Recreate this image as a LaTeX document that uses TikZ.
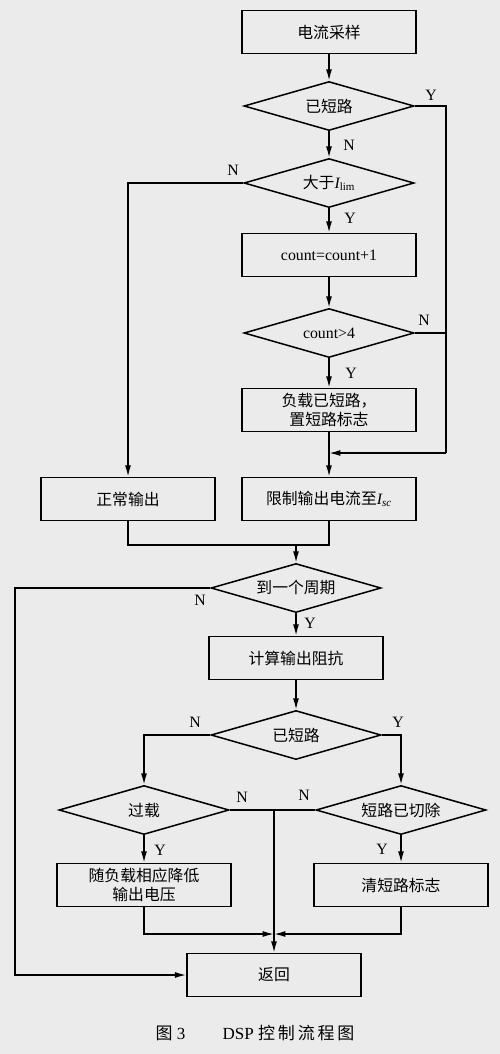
\documentclass[tikz,border=0pt]{standalone}
\usepackage{fontspec}
\setmainfont{Liberation Serif}
\newfontfamily\cjk{Noto Sans CJK SC}
\usetikzlibrary{shapes.geometric, arrows.meta}

\begin{document}
\begin{tikzpicture}[x=0.3mm, y=-0.3mm, >={Latex[length=3.4mm, width=1.8mm]}, line width=1.3pt,
    font=\fontsize{13.5}{16}\selectfont,
    box/.style={draw, minimum width=5.22cm, minimum height=1.29cm, inner sep=1pt, align=center, font=\fontsize{13.5}{16}\selectfont\cjk},
    test/.style={draw, diamond, aspect=3.5, minimum width=5.1cm, minimum height=1.47cm, inner sep=0pt, align=center, font=\fontsize{13.5}{16}\selectfont\cjk},
    yn/.style={inner sep=1pt}]
  \fill[black!8] (0,0) rectangle (500,1054);
  \useasboundingbox (0,0) rectangle (500,1054);
  % upper part: short-circuit check
  \node[box] (sample) at (329,32) {电流采样};
  \node[test] (shorted) at (329,106) {已短路};
  \node[test] (overlim) at (329,183) {大于{\rmfamily\itshape I}{\rmfamily\textsubscript{lim}}};
  \node[box] (count) at (329,255) {\rmfamily count=count+1};
  \node[test] (cmp) at (329,333) {\rmfamily count>4};
  \node[box] (flag) at (329,410) {负载已短路，\\置短路标志};
  \node[box] (normal) at (128,499) {正常输出};
  \node[box] (limit) at (329,499) {限制输出电流至{\rmfamily\itshape I}{\rmfamily\textsubscript{\itshape sc}}};
  \coordinate (rt) at (446,106);
  \coordinate (rb) at (446,453);
  \coordinate (join) at (329,453);
  \coordinate (m1) at (296,545);
  \draw[->] (sample) -- (shorted);
  \draw[->] (shorted) -- (overlim);
  \draw[->] (overlim) -- (count);
  \draw[->] (count) -- (cmp);
  \draw[->] (cmp) -- (flag);
  \draw[->] (flag) -- (limit);
  \draw (shorted.east) -- (rt) -- (rb);
  \draw[->] (rb) -- (join);
  \draw (cmp.east) -- (rt |- cmp.east);
  \draw[->] (overlim.west) -| (normal.north);
  \draw (normal.south) |- (m1);
  \draw (limit.south) |- (m1);
  \node[yn] (y1) at (431,95) {Y};
  \node[yn] (n1) at (349,145) {N};
  \node[yn] (n2) at (233,170) {N};
  \node[yn] (y2) at (350,218) {Y};
  \node[yn] (n3) at (424,320) {N};
  \node[yn] (y3) at (351,373) {Y};
  % lower part: once per period
  \node[test] (period) at (296,588) {到一个周期};
  \node[box] (calc) at (296,658) {计算输出阻抗};
  \node[test] (shorted2) at (296,735) {已短路};
  \node[test] (overload) at (144,810) {过载};
  \node[test] (cleared) at (401,810) {短路已切除};
  \node[box] (lower) at (144,885) {随负载相应降低\\输出电压};
  \node[box] (clear) at (401,885) {清短路标志};
  \node[box] (ret) at (274,975) {返回};
  \coordinate (lbus) at (15,588);
  \coordinate (j2) at (274,934);
  \draw[->] (m1) -- (period);
  \draw[->] (period) -- (calc);
  \draw[->] (calc) -- (shorted2);
  \draw[->] (period.west) -- (lbus) |- (ret.west);
  \draw[->] (shorted2.west) -| (overload.north);
  \draw[->] (shorted2.east) -| (cleared.north);
  \draw (overload.east) -- (cleared.west);
  \draw[->] (ret.north |- overload.east) -- (ret.north);
  \draw[->] (overload) -- (lower);
  \draw[->] (cleared) -- (clear);
  \draw[->] (lower.south) |- (j2);
  \draw[->] (clear.south) |- (j2);
  \node[yn] (n4) at (200,600) {N};
  \node[yn] (y4) at (310,623) {Y};
  \node[yn] (n5) at (195,722) {N};
  \node[yn] (y5) at (398,722) {Y};
  \node[yn] (n6) at (242,797) {N};
  \node[yn] (n7) at (304,795) {N};
  \node[yn] (y6) at (160,850) {Y};
  \node[yn] (y7) at (382,849) {Y};
  \node[font=\fontsize{14.5}{17}\selectfont] (caption) at (255,1033) {{\cjk 图}~3\hspace{2.2em}DSP~{\cjk 控\,制\,流\,程\,图}};
\end{tikzpicture}
\end{document}
